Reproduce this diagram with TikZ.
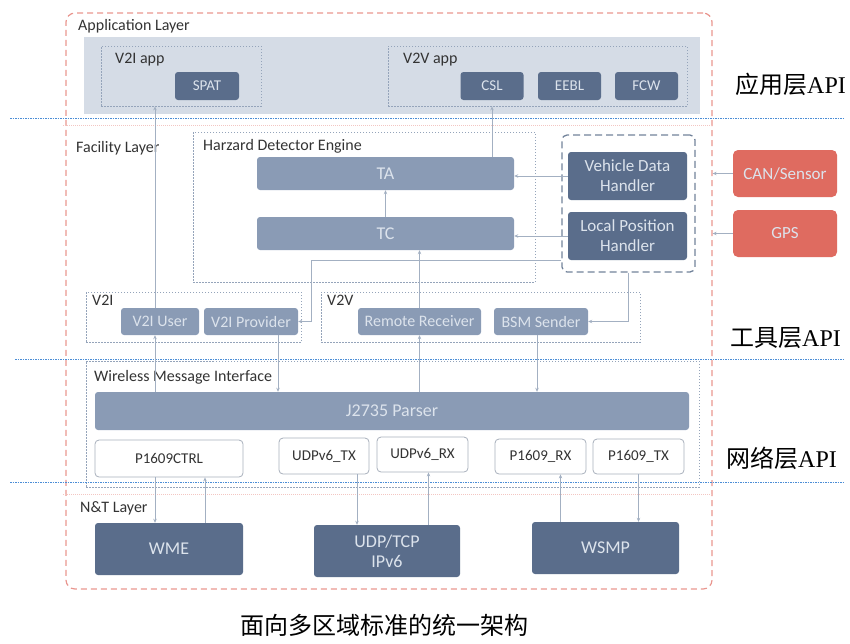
\documentclass[tikz,border=0pt]{standalone}
\usepackage{fontspec}
\setmainfont{Carlito}
\newfontfamily\cjk{Noto Sans CJK SC}
\newfontfamily\apifont{Liberation Serif}
\usetikzlibrary{arrows.meta}
\definecolor{darkbox}{HTML}{5A6D8B}
\definecolor{midbox}{HTML}{8A9BB5}
\definecolor{appband}{HTML}{D5DCE6}
\definecolor{redbox}{HTML}{DF6B60}
\definecolor{redline}{HTML}{E9968F}
\definecolor{pinkline}{HTML}{F3C6C2}
\definecolor{frameline}{HTML}{95A4BA}
\definecolor{hline}{HTML}{71829A}
\definecolor{conline}{HTML}{A3B0C2}
\definecolor{apiline}{HTML}{4A8DD6}
\definecolor{boxtext}{HTML}{DCE3EC}
\definecolor{labelgray}{HTML}{333333}
\definecolor{plainline}{HTML}{A8B0BC}
\begin{document}
\begin{tikzpicture}[x=1pt,y=-1pt,
  lbl/.style={anchor=west,inner sep=0pt,text=labelgray,font=\fontsize{16}{18}\selectfont},
  api/.style={anchor=west,inner sep=0pt,text=black,font=\fontsize{24}{26}\selectfont},
  frame/.style={draw=frameline,dash pattern=on 1.5pt off 1.5pt,line width=0.8pt,inner sep=0pt},
  dark/.style={rounded corners=3pt,fill=darkbox,text=boxtext,inner sep=0pt,align=center,font=\fontsize{17}{20}\selectfont},
  mid/.style={rounded corners=3pt,fill=midbox,text=boxtext,inner sep=0pt,font=\fontsize{16}{18}\selectfont},
  plain/.style={rounded corners=4pt,draw=plainline,line width=0.8pt,fill=white,text=labelgray,inner sep=0pt,font=\fontsize{15}{17}\selectfont},
  ext/.style={rounded corners=5pt,fill=redbox,text=boxtext,inner sep=0pt,font=\fontsize{17}{19}\selectfont},
  con/.style={draw=conline,line width=0.7pt,-{Stealth[length=4pt,width=3.5pt]}},
  sep/.style={draw=apiline,line width=1pt,dash pattern=on 1.5pt off 1pt}]
\useasboundingbox (0,0) rectangle (850,643);
% marco exterior
\node[draw=redline,line width=1.2pt,dash pattern=on 6pt off 4pt,rounded corners=9pt,
  minimum width=646pt,minimum height=576pt] (outer) at (389,301) {};
% capa de aplicacion
\node[fill=appband,inner sep=0pt,minimum width=616pt,minimum height=77pt] (appband) at (392,75.5) {};
\node[lbl] (applbl) at (78,26) {Application Layer};
\node[frame,minimum width=160pt,minimum height=60pt] (v2iapp) at (181,76) {};
\node[frame,minimum width=299pt,minimum height=60pt] (v2vapp) at (537.5,76) {};
\node[lbl] (v2iapplbl) at (115,60) {V2I app};
\node[lbl] (v2vapplbl) at (403,60) {V2V app};
\node[dark,minimum width=64pt,minimum height=28pt,font=\fontsize{15}{17}\selectfont] (spat) at (207,86) {SPAT};
\node[dark,minimum width=63pt,minimum height=28pt,font=\fontsize{15}{17}\selectfont] (csl) at (492,86) {CSL};
\node[dark,minimum width=63pt,minimum height=28pt,font=\fontsize{15}{17}\selectfont] (eebl) at (569.5,86) {EEBL};
\node[dark,minimum width=63pt,minimum height=28pt,font=\fontsize{15}{17}\selectfont] (fcw) at (646.5,86) {FCW};
% capa de facilidades
\node[lbl] (faclbl) at (76,148) {Facility Layer};
\node[frame,minimum width=342pt,minimum height=150pt] (hde) at (364,207) {};
\node[lbl] (hdelbl) at (203,146) {Harzard Detector Engine};
\node[mid,minimum width=257pt,minimum height=33pt,font=\fontsize{18}{20}\selectfont] (ta) at (385.5,173.5) {TA};
\node[mid,minimum width=257pt,minimum height=33pt,font=\fontsize{18}{20}\selectfont] (tc) at (385.5,233.5) {TC};
\node[draw=hline,line width=1.3pt,dash pattern=on 7pt off 4pt,rounded corners=5pt,inner sep=0pt,
  minimum width=133pt,minimum height=137pt] (hframe) at (628.5,203.5) {};
\node[dark,minimum width=119pt,minimum height=48pt] (vdh) at (627.5,176) {Vehicle Data\\Handler};
\node[dark,minimum width=119pt,minimum height=48pt] (lph) at (627.5,236) {Local Position\\Handler};
\node[ext,minimum width=104pt,minimum height=47pt] (can) at (785,173.5) {CAN/Sensor};
\node[ext,minimum width=104pt,minimum height=47pt] (gps) at (785,233.5) {GPS};
\node[frame,minimum width=215pt,minimum height=50pt] (v2i) at (193.5,317) {};
\node[frame,minimum width=319pt,minimum height=50pt] (v2v) at (480.5,317) {};
\node[lbl] (v2ilbl) at (92,300) {V2I};
\node[lbl] (v2vlbl) at (327,300) {V2V};
\node[mid,minimum width=78pt,minimum height=27pt] (v2iuser) at (160,321.5) {V2I User};
\node[mid,minimum width=94pt,minimum height=27pt] (v2iprov) at (251,321.5) {V2I Provider};
\node[mid,minimum width=123pt,minimum height=27pt] (remote) at (419.5,321.5) {Remote Receiver};
\node[mid,minimum width=94pt,minimum height=27pt] (bsm) at (541,321.5) {BSM Sender};
% interfaz de mensajes
\node[frame,minimum width=613pt,minimum height=126pt] (wmi) at (392.5,424) {};
\node[lbl] (wmilbl) at (94,377) {Wireless Message Interface};
\node[mid,minimum width=594pt,minimum height=38pt,font=\fontsize{18}{20}\selectfont] (parser) at (392,411) {J2735 Parser};
\node[plain,minimum width=148pt,minimum height=37pt] (ctrl) at (169,458.5) {P1609CTRL};
\node[plain,minimum width=90pt,minimum height=36pt] (udptx) at (324,456) {UDPv6\_TX};
\node[plain,minimum width=91pt,minimum height=35pt] (udprx) at (422.5,454.5) {UDPv6\_RX};
\node[plain,minimum width=91pt,minimum height=35pt] (rx) at (540.5,456.5) {P1609\_RX};
\node[plain,minimum width=91pt,minimum height=35pt] (tx) at (638.5,456.5) {P1609\_TX};
% capa N&T
\node[lbl] (ntlbl) at (80,508) {N\&T Layer};
\node[dark,minimum width=148pt,minimum height=52pt,font=\fontsize{18}{20}\selectfont] (wme) at (169,549) {WME};
\node[dark,minimum width=146pt,minimum height=52pt,font=\fontsize{18}{20}\selectfont] (udp) at (387,551) {UDP/TCP\\IPv6};
\node[dark,minimum width=147pt,minimum height=52pt,font=\fontsize{18}{20}\selectfont] (wsmp) at (605.5,548) {WSMP};
% lineas de API
\draw[draw=pinkline,line width=0.9pt,dash pattern=on 1pt off 1pt] (63,125) -- (712,125);
\draw[draw=pinkline,line width=0.9pt,dash pattern=on 1pt off 1pt] (63,494) -- (712,494);
\draw[sep] (10,118) -- (845,118);
\draw[sep] (15,359) -- (845,359);
\draw[sep] (10,482) -- (845,482);
\node[api] (api1) at (735,84) {{\cjk 应用层}{\apifont API}};
\node[api] (api2) at (730,338) {{\cjk 工具层}{\apifont API}};
\node[api] (api3) at (726,458) {{\cjk 网络层}{\apifont API}};
% conexiones
\draw[con] ([xshift=-5pt]v2iuser.north) -- ([xshift=-5pt]v2iuser.north |- v2iapp.south);
\draw[con] ([xshift=-5pt]v2iuser.south |- parser.north) -- ([xshift=-5pt]v2iuser.south);
\draw[con] (tc.north) -- (ta.south);
\draw[con] (csl.south |- ta.north) -- (csl.south |- v2vapp.south);
\draw[con] (vdh.west) -- (vdh.west -| ta.east);
\draw[con] (lph.west) -- (lph.west -| tc.east);
\draw[con] (can.west) -- (can.west -| outer.east);
\draw[con] (gps.west) -- (gps.west -| outer.east);
\draw[con] ([yshift=12pt]hframe.south west) -| ([xshift=13pt]v2iprov.east) -- (v2iprov.east);
\draw[con] (hframe.south) |- (bsm.east);
\draw[con] (remote.north) -- (remote.north |- tc.south);
\draw[con] (remote.south |- parser.north) -- (remote.south);
\draw[con] ([xshift=27pt]v2iprov.south) -- ([xshift=27pt]v2iprov.south |- parser.north);
\draw[con] ([xshift=-4pt]bsm.south) -- ([xshift=-4pt]bsm.south |- parser.north);
\draw[con] ([xshift=-14pt]ctrl.south) -- ([xshift=-14pt]ctrl.south |- wme.north);
\draw[con] ([xshift=36pt]wme.north) -- ([xshift=36pt]wme.north |- ctrl.south);
\draw[con] ([xshift=33pt]udptx.south) -- ([xshift=33pt]udptx.south |- udp.north);
\draw[con] ([xshift=6pt]udprx.south |- udp.north) -- ([xshift=6pt]udprx.south);
\draw[con] ([xshift=20pt]rx.south |- wsmp.north) -- ([xshift=20pt]rx.south);
\draw[con] (tx.south) -- (tx.south |- wsmp.north);
% titulo
\node[inner sep=0pt,font=\cjk\fontsize{24}{26}\selectfont] (title) at (384,625) {面向多区域标准的统一架构};
\end{tikzpicture}
\end{document}
